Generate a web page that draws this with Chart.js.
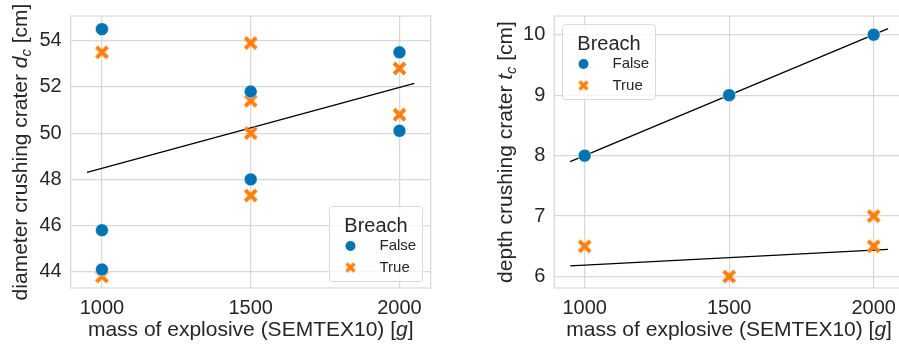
<!DOCTYPE html>
<html>
<head>
<meta charset="utf-8">
<script src="https://cdn.jsdelivr.net/npm/chart.js@4"></script>
<style>
  html, body { margin: 0; padding: 0; background: #fff; overflow: hidden; }
  #wrap { position: relative; width: 920px; height: 347px; overflow: hidden; }
  canvas { position: absolute; top: 0; }
</style>
</head>
<body>
<div id="wrap">
  <canvas id="left" width="450" height="347" style="left:0;width:450px;height:347px"></canvas>
  <canvas id="right" width="462" height="347" style="left:450px;width:462px;height:347px"></canvas>
</div>
<script>
// Daten: Durchmesser Krater (links)
const massTicks = [1000, 1500, 2000];
const dFalseX = [1000, 1000, 1000, 1500, 1500, 2000, 2000];
const dFalseY = [54.5, 45.8, 44.1, 51.8, 48.0, 53.5, 50.1];
const dTrueX = [1000, 1000, 1500, 1500, 1500, 1500, 2000, 2000];
const dTrueY = [53.5, 43.8, 53.9, 51.4, 50.0, 47.3, 52.8, 50.8];
const dFitX = [950, 2050];
const dFitY = [48.3, 52.15];
const dTicks = [44, 46, 48, 50, 52, 54];

// Daten: Tiefe Krater (rechts)
const tFalseX = [1000, 1500, 2000];
const tFalseY = [8.0, 9.0, 10.0];
const tTrueX = [1000, 1500, 2000, 2000];
const tTrueY = [6.5, 6.0, 7.0, 6.5];
const tFitFalseX = [950, 2050];
const tFitFalseY = [7.9, 10.1];
const tFitTrueX = [950, 2050];
const tFitTrueY = [6.175, 6.45];
const tTicks = [6, 7, 8, 9, 10];

const legendLabels = ['False', 'True'];
const BLUE = '#0173b2';
const ORANGE = '#ff7f0e';
const GRID = '#d8d8d8';
const TEXT = '#262626';
const FONT = "'Liberation Sans', Arial, sans-serif";

function pts(xs, ys) {
    return xs.map((x, i) => ({ x: x, y: ys[i] }));
}

// X-Marker wie bei seaborn
function makeX(size, color, lw) {
    const c = document.createElement('canvas');
    c.width = size; c.height = size;
    const g = c.getContext('2d');
    g.strokeStyle = color;
    g.lineWidth = lw;
    g.lineCap = 'butt';
    const p = 2;
    g.beginPath();
    g.moveTo(p, p); g.lineTo(size - p, size - p);
    g.moveTo(size - p, p); g.lineTo(p, size - p);
    g.stroke();
    return c;
}
const xMarker = makeX(15, ORANGE, 4);

// Text mit kursiven Teilen und Index zeichnen
function richWidth(ctx, parts, size) {
    let w = 0;
    parts.forEach(p => {
        const s = p.sub ? size * 0.7 : size;
        ctx.font = (p.it ? 'italic ' : '') + s + 'px ' + FONT;
        w += ctx.measureText(p.t).width;
    });
    return w;
}
function drawRich(ctx, parts, cx, cy, size, rotate) {
    ctx.save();
    ctx.translate(cx, cy);
    if (rotate) ctx.rotate(-Math.PI / 2);
    const w = richWidth(ctx, parts, size);
    let x = -w / 2;
    ctx.fillStyle = TEXT;
    ctx.textBaseline = 'middle';
    ctx.textAlign = 'left';
    parts.forEach(p => {
        const s = p.sub ? size * 0.7 : size;
        ctx.font = (p.it ? 'italic ' : '') + s + 'px ' + FONT;
        ctx.fillText(p.t, x, p.sub ? size * 0.28 : 0);
        x += ctx.measureText(p.t).width;
    });
    ctx.restore();
}

const frameAndTitles = {
    id: 'frameAndTitles',
    afterDraw(chart, args, opts) {
        const ctx = chart.ctx;
        const a = chart.chartArea;
        ctx.save();
        ctx.strokeStyle = GRID;
        ctx.lineWidth = 1.2;
        ctx.strokeRect(a.left, a.top, a.right - a.left, a.bottom - a.top);
        ctx.restore();
        drawRich(ctx, opts.xTitle, (a.left + a.right) / 2, opts.xTitleY, 21, false);
        drawRich(ctx, opts.yTitle, opts.yTitleX, (a.top + a.bottom) / 2, 21, true);

        // Legende
        const L = opts.legend;
        ctx.save();
        ctx.fillStyle = 'rgba(255,255,255,0.8)';
        ctx.strokeStyle = '#d9d9d9';
        ctx.lineWidth = 1;
        ctx.beginPath();
        ctx.roundRect(L.x, L.y, L.w, L.h, 3);
        ctx.fill();
        ctx.stroke();
        ctx.fillStyle = TEXT;
        ctx.textBaseline = 'middle';
        ctx.textAlign = 'center';
        ctx.font = '20px ' + FONT;
        ctx.fillText('Breach', L.x + L.w / 2, L.y + 20);
        ctx.textAlign = 'left';
        ctx.font = '15px ' + FONT;
        const mx = L.x + 21;
        const rows = [L.y + 39.5, L.y + 61];
        ctx.fillStyle = BLUE;
        ctx.beginPath();
        ctx.arc(mx, rows[0], 5, 0, Math.PI * 2);
        ctx.fill();
        ctx.drawImage(makeX(12, ORANGE, 3.4), mx - 6, rows[1] - 6);
        ctx.fillStyle = TEXT;
        ctx.fillText(legendLabels[0], L.x + 50, rows[0]);
        ctx.fillText(legendLabels[1], L.x + 50, rows[1]);
        ctx.restore();
    }
};

function makeChart(id, datasets, yMin, yMax, yTicks, yWidth, padRight, titles) {
    return new Chart(document.getElementById(id), {
        type: 'scatter',
        data: { datasets: datasets },
        options: {
            responsive: false,
            maintainAspectRatio: false,
            animation: false,
            layout: { padding: { top: 16, right: padRight, left: 0, bottom: 0 } },
            plugins: {
                legend: { display: false },
                tooltip: { enabled: false },
                frameAndTitles: titles
            },
            scales: {
                x: {
                    type: 'linear',
                    min: 895, max: 2105,
                    afterBuildTicks: s => { s.ticks = massTicks.map(v => ({ value: v })); },
                    afterFit: s => { s.height = 59; s.paddingLeft = 0; s.paddingRight = 0; },
                    grid: { color: GRID, lineWidth: 1.2, drawTicks: false },
                    border: { display: false },
                    ticks: { color: TEXT, font: { family: FONT, size: 20 }, padding: 8, maxRotation: 0,
                        callback: v => String(v) }
                },
                y: {
                    type: 'linear',
                    min: yMin, max: yMax,
                    afterBuildTicks: s => { s.ticks = yTicks.map(v => ({ value: v })); },
                    afterFit: s => { s.width = yWidth; s.paddingTop = 0; s.paddingBottom = 0; },
                    grid: { color: GRID, lineWidth: 1.2, drawTicks: false },
                    border: { display: false },
                    ticks: { color: TEXT, font: { family: FONT, size: 20 }, padding: 9,
                        callback: v => String(v) }
                }
            }
        },
        plugins: [frameAndTitles]
    });
}

function fitLine(xs, ys) {
    return {
        type: 'line', data: pts(xs, ys), borderColor: '#000', borderWidth: 1.3,
        pointRadius: 0, showLine: true, fill: false, order: 3
    };
}
function falseSet(xs, ys) {
    return { data: pts(xs, ys), backgroundColor: BLUE, borderColor: '#fff', borderWidth: 0.6,
        pointRadius: 6.5, pointStyle: 'circle', order: 1 };
}
function trueSet(xs, ys) {
    return { data: pts(xs, ys), pointStyle: xMarker, pointRadius: 7, order: 2 };
}

makeChart('left', [
    fitLine(dFitX, dFitY),
    falseSet(dFalseX, dFalseY),
    trueSet(dTrueX, dTrueY)
], 43.3, 55.07, dTicks, 70.7, 19.3, {
    xTitle: [{ t: 'mass of explosive (SEMTEX10) [' }, { t: 'g', it: true }, { t: ']' }],
    yTitle: [{ t: 'diameter crushing crater ' }, { t: 'd', it: true }, { t: 'c', it: true, sub: true }, { t: ' [cm]' }],
    xTitleY: 330, yTitleX: 21,
    legend: { x: 329.5, y: 206.5, w: 93, h: 75 }
});

makeChart('right', [
    fitLine(tFitFalseX, tFitFalseY),
    fitLine(tFitTrueX, tFitTrueY),
    falseSet(tFalseX, tFalseY),
    trueSet(tTrueX, tTrueY)
], 5.81, 10.31, tTicks, 104.3, 0, {
    xTitle: [{ t: 'mass of explosive (SEMTEX10) [' }, { t: 'g', it: true }, { t: ']' }],
    yTitle: [{ t: 'depth crushing crater ' }, { t: 't', it: true }, { t: 'c', it: true, sub: true }, { t: ' [cm]' }],
    xTitleY: 330, yTitleX: 56,
    legend: { x: 112.5, y: 24.5, w: 93, h: 75 }
});
</script>
</body>
</html>
